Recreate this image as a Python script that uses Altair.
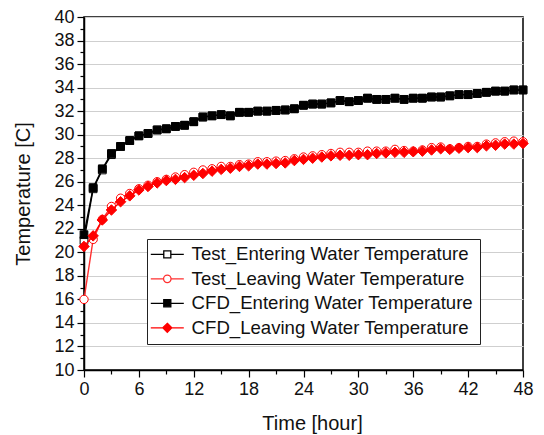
import altair as alt
import pandas as pd

hours = list(range(49))

test_entering = [21.0, 25.4, 27.0, 28.3, 29.0, 29.5, 29.9, 30.1, 30.4, 30.5, 30.7, 30.8, 31.1, 31.5,
                 31.6, 31.7, 31.6, 31.9, 31.9, 32.0, 32.0, 32.05, 32.1, 32.2, 32.5, 32.6, 32.6, 32.7,
                 32.9, 32.8, 32.9, 33.1, 33.0, 33.0, 33.1, 33.0, 33.1, 33.1, 33.2, 33.2, 33.3, 33.4,
                 33.4, 33.5, 33.6, 33.7, 33.7, 33.8, 33.8]
test_leaving = [16.0, 21.1, 22.8, 23.9, 24.6, 25.0, 25.4, 25.7, 26.0, 26.2, 26.4, 26.6, 26.8, 27.0,
                27.1, 27.3, 27.3, 27.45, 27.5, 27.7, 27.7, 27.75, 27.8, 27.95, 28.1, 28.2, 28.3, 28.4,
                28.5, 28.5, 28.5, 28.6, 28.6, 28.6, 28.75, 28.65, 28.6, 28.7, 28.9, 28.95, 28.8, 28.9,
                29.0, 29.0, 29.2, 29.3, 29.4, 29.45, 29.4]
cfd_entering = [21.5, 25.5, 27.1, 28.4, 29.0, 29.5, 29.9, 30.1, 30.4, 30.5, 30.7, 30.8, 31.1, 31.5,
                31.6, 31.7, 31.6, 31.9, 31.9, 32.0, 32.0, 32.07, 32.1, 32.2, 32.5, 32.6, 32.6, 32.7,
                32.9, 32.8, 32.9, 33.1, 33.0, 33.0, 33.1, 33.0, 33.1, 33.1, 33.2, 33.2, 33.3, 33.4,
                33.4, 33.5, 33.6, 33.7, 33.7, 33.8, 33.8]
cfd_leaving = [20.5, 21.4, 22.75, 23.6, 24.3, 24.8, 25.3, 25.6, 25.9, 26.1, 26.2, 26.35, 26.55, 26.7,
               26.9, 27.05, 27.15, 27.3, 27.35, 27.5, 27.5, 27.55, 27.6, 27.8, 27.9, 28.0, 28.1, 28.2,
               28.25, 28.25, 28.3, 28.3, 28.4, 28.45, 28.5, 28.5, 28.55, 28.6, 28.7, 28.8, 28.75, 28.85,
               28.9, 28.9, 29.05, 29.1, 29.2, 29.2, 29.25]

series_names = ["Test_Entering Water Temperature", "Test_Leaving Water Temperature",
                "CFD_Entering Water Temperature", "CFD_Leaving Water Temperature"]
series_values = [test_entering, test_leaving, cfd_entering, cfd_leaving]

line_colors = ["#000000", "#ff3030", "#000000", "#ff0000"]
marker_shapes = ["square", "circle", "square", "diamond"]
marker_fills = ["#ffffff", "#ffffff", "#000000", "#ff0000"]
marker_strokes = ["#000000", "#ff0000", "#000000", "#ff0000"]
marker_sizes = [60, 70, 60, 110]

rows = []
for name, vals in zip(series_names, series_values):
    for h, v in zip(hours, vals):
        rows.append({"hour": h, "temp": v, "series": name})
df = pd.DataFrame(rows)

FONT = "Liberation Sans"

x_enc = alt.X(
    "hour:Q",
    scale=alt.Scale(domain=[0, 48], nice=False, zero=False),
    axis=alt.Axis(
        values=list(range(0, 49, 3)),
        labelExpr="datum.value % 6 === 0 ? datum.label : ''",
        tickSize={"condition": {"test": "datum.value % 6 === 0", "value": 7}, "value": 4},
        grid=False,
        labelFlush=False,
        title="Time [hour]",
        titlePadding=15,
        titleX=228,
        labelPadding=3,
    ),
)
y_enc = alt.Y(
    "temp:Q",
    scale=alt.Scale(domain=[10, 40], nice=False, zero=False),
    axis=alt.Axis(
        values=list(range(10, 41, 1)),
        labelExpr="datum.value % 2 === 0 ? datum.label : ''",
        tickSize={"condition": {"test": "datum.value % 2 === 0", "value": 7}, "value": 4},
        grid=True,
        labelFlush=False,
        gridOpacity={"condition": {"test": "datum.value % 2 === 0", "value": 1}, "value": 0},
        title="Temperature [C]",
        titlePadding=20,
        labelPadding=3,
    ),
)

layers = []
for i, name in enumerate(series_names):
    sub = df[df["series"] == name]
    base = alt.Chart(sub)
    line = base.mark_line(color=line_colors[i], strokeWidth=1.4).encode(x=x_enc, y=y_enc)
    pts = base.mark_point(
        shape=marker_shapes[i], filled=True, fill=marker_fills[i], stroke=marker_strokes[i],
        strokeWidth=1, size=marker_sizes[i], opacity=1,
    ).encode(x=x_enc, y=y_enc)
    layers += [line, pts]

# legend helper layer (invisible marks); legend symbols drawn as line + marker.
# unit = sqrt(225)/2 = 7.5 px
def circle_path(r):
    k = 0.5523 * r
    return (f"M{-r},0C{-r},{-k} {-k},{-r} 0,{-r}C{k},{-r} {r},{-k} {r},0"
            f"C{r},{k} {k},{r} 0,{r}C{-k},{r} {-r},{k} {-r},0Z")

legend_paths = [
    "M-2.2,0H-0.47M0.47,0H2.2M-0.47,-0.47H0.47V0.47H-0.47Z",
    "M-2.2,0H-0.5M0.5,0H2.2" + circle_path(0.5),
    "M-2.2,0H-0.47M0.47,0H2.2M-0.47,-0.47H0.47V0.47H-0.47Z",
    "M-2.2,0H2.2M0,-0.6L0.6,0L0,0.6L-0.6,0Z",
]
legend_df = df.groupby("series", sort=False).first().reset_index()
leg = alt.Legend(
    title=None, orient="none", legendX=63, legendY=222, direction="vertical",
    fillColor="white", strokeColor="#222222", padding=6,
    labelFont=FONT, labelFontSize=18.6, labelColor="#111111", labelOffset=15,
    symbolSize=225, symbolStrokeWidth=1.3, symbolOpacity=1, symbolOffset=5, rowPadding=5.5,
    labelLimit=400,
)
legend_layer = alt.Chart(legend_df).mark_point(filled=True, opacity=0, size=225).encode(
    x=x_enc, y=y_enc,
    shape=alt.Shape("series:N", scale=alt.Scale(domain=series_names, range=legend_paths), legend=leg),
    fill=alt.Fill("series:N", scale=alt.Scale(domain=series_names, range=marker_fills), legend=leg),
    stroke=alt.Stroke("series:N", scale=alt.Scale(domain=series_names, range=line_colors), legend=leg),
)

chart = alt.layer(legend_layer, *layers).properties(
    width=439, height=353,
    autosize=alt.AutoSizeParams(type="none"),
    padding={"left": 76, "top": 9, "right": 12, "bottom": 64},
).configure_view(
    stroke="#000000", strokeWidth=1.5,
).configure_axis(
    domainColor="#000000", domainWidth=1.5, tickColor="#000000", tickWidth=1.2,
    labelFont=FONT, labelFontSize=18, labelColor="#111111",
    titleFont=FONT, titleFontSize=20, titleFontWeight="normal", titleColor="#111111",
    gridColor="#cfcfcf", gridWidth=1,
)

chart.save("out.html", embed_options={"renderer": "svg", "actions": False})
